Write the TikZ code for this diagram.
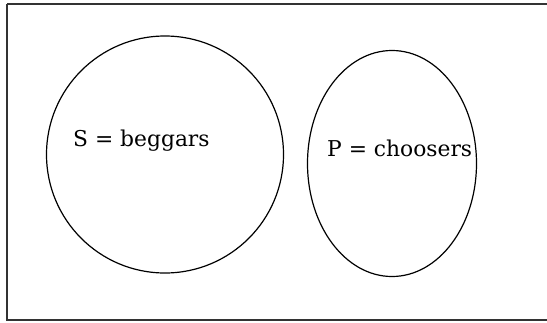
\documentclass[tikz,border=0pt]{standalone}
\usepackage{fontspec}
\setmainfont{DejaVu Serif}
\begin{document}
\begin{tikzpicture}[x=1pt,y=-1pt,
  frame/.style={draw=black!80,line width=2pt},
  setcirc/.style={draw=black,line width=1.2pt},
  lbl/.style={anchor=base west,inner sep=0pt,font=\fontsize{21.8}{25}\selectfont}]
\useasboundingbox (0,0) rectangle (547,322);
\draw[frame] (7,4) -- (552,4) (7,4) -- (7,320) -- (552,320);
\draw[setcirc] (165,154.5) ellipse [x radius=118.5, y radius=118.5];
\draw[setcirc] (392,163.5) ellipse [x radius=84.5, y radius=113];
\node[lbl] (s) at (73,146) {S = beggars};
\node[lbl] (p) at (327,156) {P = choosers};
\end{tikzpicture}
\end{document}
